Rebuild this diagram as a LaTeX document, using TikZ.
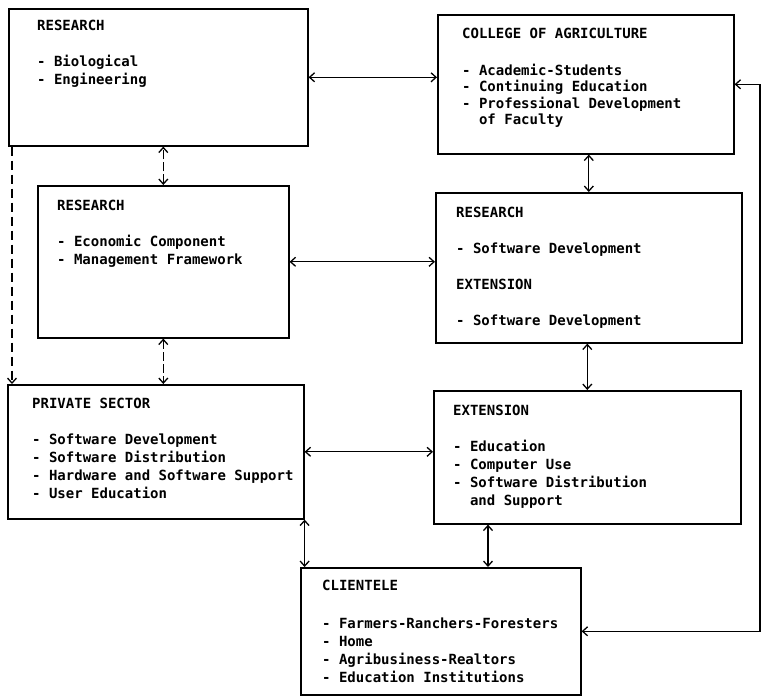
\documentclass[tikz,border=0pt]{standalone}
\usepackage{fontspec}
\setmonofont{DejaVu Sans Mono}
\usetikzlibrary{arrows.meta,positioning,calc}

\begin{document}
\begin{tikzpicture}[
                x=1pt, y=-1pt,
                >={Straight Barb[length=5pt,width=9pt]},
                blockbox/.style={rectangle, draw=black, line width=1.6pt, anchor=north west,
                        inner sep=0pt},
                blocktext/.style={anchor=north west, align=left, inner sep=0pt,
                        font=\ttfamily\bfseries\fontsize{14}{18}\selectfont},
                arr/.style={<->, line width=1.3pt},
                dasharr/.style={<->, line width=1.3pt, dash pattern=on 9pt off 3pt},
            ]
            \useasboundingbox (0,0) rectangle (776,698);

            \node[blockbox, minimum width=299pt, minimum height=137pt] (resbio) at (8,8) {};
            \node[blockbox, minimum width=296pt, minimum height=139pt] (college) at (437,14) {};
            \node[blockbox, minimum width=251pt, minimum height=152pt] (resecon) at (37,185) {};
            \node[blockbox, minimum width=306pt, minimum height=150pt] (resext) at (435,192) {};
            \node[blockbox, minimum width=296pt, minimum height=134pt] (private) at (7,384) {};
            \node[blockbox, minimum width=307pt, minimum height=133pt] (ext) at (433,390) {};
            \node[blockbox, minimum width=280pt, minimum height=127pt] (client) at (300,567) {};

            \node[blocktext] (resbiotxt) at (37,20) {RESEARCH\\[18pt]
                - Biological\\
                - Engineering};
            \node[blocktext, font=\ttfamily\bfseries\fontsize{14}{16.5}\selectfont] (collegetxt) at (462,28) {COLLEGE OF AGRICULTURE\\[20pt]
                - Academic-Students\\
                - Continuing Education\\
                - Professional Development\\
                \phantom{- }of Faculty};
            \node[blocktext] (resecontxt) at (57,200) {RESEARCH\\[18pt]
                - Economic Component\\
                - Management Framework};
            \node[blocktext] (resexttxt) at (456,207) {RESEARCH\\[18pt]
                - Software Development\\[18pt]
                EXTENSION\\[18pt]
                - Software Development};
            \node[blocktext] (privatetxt) at (32,398) {PRIVATE SECTOR\\[18pt]
                - Software Development\\
                - Software Distribution\\
                - Hardware and Software Support\\
                - User Education};
            \node[blocktext] (exttxt) at (453,405) {EXTENSION\\[18pt]
                - Education\\
                - Computer Use\\
                - Software Distribution\\
                \phantom{- }and Support};
            \node[blocktext] (clienttxt) at (322,580) {CLIENTELE\\[20pt]
                - Farmers-Ranchers-Foresters\\
                - Home\\
                - Agribusiness-Realtors\\
                - Education Institutions};

            \coordinate (loop) at (760,0);

            \draw[arr] (resbio.east) -- (resbio.east -| college.west);
            \draw[dasharr] (resecon.north) -- (resecon.north |- resbio.south);
            \draw[arr] (resext.north) -- (resext.north |- college.south);
            \draw[arr] (resecon.east) -- (resecon.east -| resext.west);
            \draw[arr] (ext.north) -- (ext.north |- resext.south);
            \draw[dasharr] (resecon.south) -- (resecon.south |- private.north);
            \draw[arr] (private.east) -- (private.east -| ext.west);
            \draw[arr] (private.south east) -- (private.south east |- client.north);
            \draw[arr] ([xshift=55pt]ext.south west) -- ([xshift=55pt]ext.south west |- client.north);
            \draw[arr] (client.east) -| (loop |- college.east) -- (college.east);
            \draw[->, line width=1.3pt, dash pattern=on 9pt off 5pt]
                ([xshift=4pt]resbio.south west) -- ([xshift=4pt]resbio.south west |- private.north);

        \end{tikzpicture}
\end{document}
